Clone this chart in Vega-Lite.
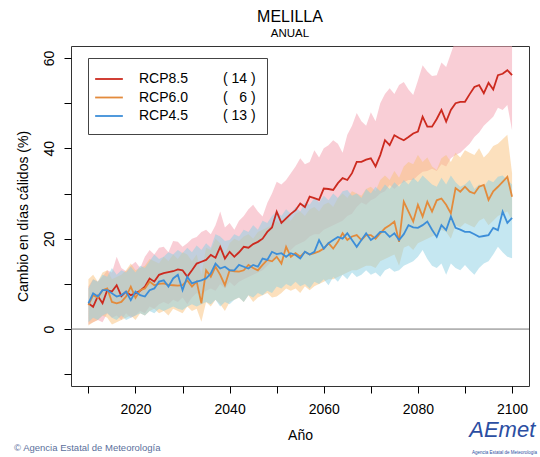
{
  "$schema": "https://vega.github.io/schema/vega-lite/v6.json",
  "width": 458,
  "height": 340,
  "autosize": "none",
  "padding": {"left": 71, "top": 46, "right": 11, "bottom": 71},
  "background": "#ffffff",
  "config": {
    "font": "Liberation Sans",
    "view": {"stroke": "#333333", "strokeWidth": 1},
    "axis": {
      "domain": false, "grid": false, "tickColor": "#000000", "tickSize": 7, "tickWidth": 1,
      "labelFontSize": 14, "labelColor": "#000000", "labelFont": "Liberation Sans",
      "titleFontSize": 14, "titleFontWeight": "normal", "titleColor": "#000000", "titleFont": "Liberation Sans",
      "labelFlush": false, "labelOverlap": false
    }
  },
  "title": {
    "text": "MELILLA", "subtitle": "ANUAL", "fontSize": 16, "fontWeight": "normal", "color": "#000000",
    "subtitleFontSize": 11.5, "subtitleColor": "#000000", "subtitleFont": "Liberation Sans", "font": "Liberation Sans",
    "anchor": "middle", "frame": "group", "offset": 7, "dx": -10, "subtitlePadding": 3
  },
  "data": {"values": [
    {"year":2010,"r":5.7,"rl":1.0,"ru":9.5,"o":5.3,"ol":0.8,"ou":11.0,"b":5.7,"bl":1.5,"bu":9.0},
    {"year":2011,"r":4.9,"rl":1.5,"ru":11.0,"o":7.5,"ol":1.5,"ou":12.0,"b":7.9,"bl":2.5,"bu":11.0},
    {"year":2012,"r":7.3,"rl":2.0,"ru":10.5,"o":6.9,"ol":2.0,"ou":10.5,"b":7.2,"bl":2.0,"bu":10.5},
    {"year":2013,"r":5.7,"rl":1.5,"ru":11.6,"o":8.6,"ol":3.0,"ou":12.5,"b":8.6,"bl":3.0,"bu":12.0},
    {"year":2014,"r":8.6,"rl":3.5,"ru":13.0,"o":9.0,"ol":2.5,"ou":13.0,"b":8.6,"bl":3.5,"bu":11.6},
    {"year":2015,"r":8.3,"rl":2.5,"ru":12.5,"o":6.0,"ol":1.0,"ou":11.0,"b":7.9,"bl":2.5,"bu":13.5},
    {"year":2016,"r":9.7,"rl":3.0,"ru":16.0,"o":5.7,"ol":1.5,"ou":11.5,"b":7.2,"bl":2.0,"bu":12.0},
    {"year":2017,"r":7.3,"rl":2.0,"ru":13.5,"o":6.0,"ol":2.0,"ou":12.0,"b":7.5,"bl":3.0,"bu":13.0},
    {"year":2018,"r":8.3,"rl":3.5,"ru":12.8,"o":7.2,"ol":2.5,"ou":13.0,"b":8.3,"bl":2.0,"bu":12.5},
    {"year":2019,"r":7.5,"rl":2.5,"ru":14.0,"o":9.4,"ol":3.0,"ou":14.5,"b":6.4,"bl":2.5,"bu":13.8},
    {"year":2020,"r":7.9,"rl":3.0,"ru":14.9,"o":6.9,"ol":2.0,"ou":13.0,"b":8.3,"bl":3.0,"bu":12.5},
    {"year":2021,"r":8.5,"rl":4.0,"ru":13.5,"o":8.6,"ol":3.5,"ou":13.5,"b":7.5,"bl":3.5,"bu":14.0},
    {"year":2022,"r":9.4,"rl":3.5,"ru":16.0,"o":9.0,"ol":3.0,"ou":14.0,"b":7.2,"bl":3.0,"bu":13.5},
    {"year":2023,"r":11.2,"rl":5.0,"ru":17.5,"o":10.5,"ol":4.0,"ou":15.5,"b":8.6,"bl":4.0,"bu":15.0},
    {"year":2024,"r":10.5,"rl":4.5,"ru":16.5,"o":9.7,"ol":4.5,"ou":15.0,"b":9.0,"bl":3.5,"bu":16.5},
    {"year":2025,"r":12.0,"rl":5.5,"ru":18.0,"o":10.0,"ol":3.5,"ou":14.5,"b":10.5,"bl":4.5,"bu":15.5},
    {"year":2026,"r":12.4,"rl":6.0,"ru":18.2,"o":10.1,"ol":4.0,"ou":16.0,"b":10.8,"bl":4.0,"bu":16.0},
    {"year":2027,"r":12.6,"rl":5.5,"ru":17.0,"o":9.8,"ol":3.0,"ou":15.0,"b":9.4,"bl":4.5,"bu":17.0},
    {"year":2028,"r":12.8,"rl":6.5,"ru":19.5,"o":9.7,"ol":4.5,"ou":16.5,"b":11.2,"bl":5.0,"bu":16.5},
    {"year":2029,"r":13.2,"rl":6.0,"ru":19.3,"o":9.6,"ol":4.0,"ou":15.5,"b":12.0,"bl":4.5,"bu":17.5},
    {"year":2030,"r":13.0,"rl":7.0,"ru":18.2,"o":9.7,"ol":3.5,"ou":17.0,"b":8.6,"bl":4.2,"bu":16.8},
    {"year":2031,"r":11.6,"rl":5.5,"ru":19.0,"o":10.8,"ol":5.0,"ou":16.5,"b":11.6,"bl":5.0,"bu":18.0},
    {"year":2032,"r":13.0,"rl":7.0,"ru":20.0,"o":9.4,"ol":4.0,"ou":15.0,"b":10.1,"bl":5.5,"bu":17.0},
    {"year":2033,"r":14.5,"rl":8.0,"ru":20.4,"o":10.5,"ol":4.5,"ou":16.5,"b":10.5,"bl":5.0,"bu":18.5},
    {"year":2034,"r":14.9,"rl":7.5,"ru":21.5,"o":5.7,"ol":1.6,"ou":12.0,"b":10.8,"bl":5.5,"bu":17.5},
    {"year":2035,"r":15.3,"rl":8.5,"ru":22.0,"o":13.0,"ol":6.0,"ou":18.0,"b":11.2,"bl":6.0,"bu":19.0},
    {"year":2036,"r":16.4,"rl":9.0,"ru":21.0,"o":11.6,"ol":5.0,"ou":17.5,"b":12.3,"bl":5.5,"bu":18.0},
    {"year":2037,"r":15.8,"rl":8.5,"ru":23.0,"o":13.8,"ol":6.5,"ou":20.0,"b":14.5,"bl":6.5,"bu":21.0},
    {"year":2038,"r":18.2,"rl":10.0,"ru":26.0,"o":12.0,"ol":5.5,"ou":19.0,"b":13.4,"bl":5.0,"bu":20.5},
    {"year":2039,"r":15.6,"rl":9.0,"ru":22.5,"o":9.7,"ol":4.0,"ou":16.5,"b":13.8,"bl":6.0,"bu":19.5},
    {"year":2040,"r":17.1,"rl":10.5,"ru":23.5,"o":13.0,"ol":6.0,"ou":19.0,"b":13.0,"bl":5.5,"bu":19.7},
    {"year":2041,"r":16.0,"rl":9.5,"ru":22.0,"o":12.8,"ol":6.5,"ou":20.0,"b":13.0,"bl":6.5,"bu":21.0},
    {"year":2042,"r":17.0,"rl":10.5,"ru":24.0,"o":12.7,"ol":7.0,"ou":19.5,"b":14.2,"bl":7.0,"bu":20.5},
    {"year":2043,"r":18.2,"rl":11.0,"ru":25.0,"o":13.0,"ol":6.0,"ou":20.5,"b":13.8,"bl":6.0,"bu":22.0},
    {"year":2044,"r":18.0,"rl":11.5,"ru":26.5,"o":14.2,"ol":7.5,"ou":21.0,"b":13.4,"bl":7.5,"bu":21.5},
    {"year":2045,"r":18.8,"rl":12.0,"ru":27.5,"o":13.5,"ol":6.0,"ou":20.0,"b":14.2,"bl":7.0,"bu":23.0},
    {"year":2046,"r":19.3,"rl":12.5,"ru":26.0,"o":13.0,"ol":7.0,"ou":21.5,"b":13.8,"bl":8.0,"bu":22.0},
    {"year":2047,"r":20.0,"rl":13.0,"ru":24.9,"o":14.2,"ol":7.5,"ou":22.0,"b":15.6,"bl":7.5,"bu":24.0},
    {"year":2048,"r":21.5,"rl":14.0,"ru":27.9,"o":15.3,"ol":8.0,"ou":22.5,"b":15.3,"bl":8.5,"bu":23.5},
    {"year":2049,"r":22.5,"rl":15.0,"ru":30.0,"o":15.0,"ol":7.0,"ou":23.0,"b":17.1,"bl":8.0,"bu":25.0},
    {"year":2050,"r":26.0,"rl":16.0,"ru":32.6,"o":16.0,"ol":7.2,"ou":24.0,"b":16.6,"bl":9.4,"bu":26.0},
    {"year":2051,"r":23.5,"rl":16.5,"ru":32.0,"o":14.5,"ol":8.0,"ou":23.0,"b":16.8,"bl":9.0,"bu":25.0},
    {"year":2052,"r":24.5,"rl":17.0,"ru":33.0,"o":18.2,"ol":9.0,"ou":25.0,"b":16.0,"bl":10.0,"bu":26.5},
    {"year":2053,"r":25.5,"rl":17.5,"ru":34.5,"o":16.0,"ol":8.5,"ou":24.0,"b":16.8,"bl":9.5,"bu":25.5},
    {"year":2054,"r":26.3,"rl":18.5,"ru":36.0,"o":16.8,"ol":9.0,"ou":25.5,"b":16.4,"bl":10.5,"bu":27.0},
    {"year":2055,"r":27.8,"rl":19.0,"ru":37.8,"o":16.0,"ol":8.0,"ou":26.0,"b":15.6,"bl":9.5,"bu":26.0},
    {"year":2056,"r":27.0,"rl":19.5,"ru":36.5,"o":17.1,"ol":9.5,"ou":25.0,"b":17.1,"bl":10.0,"bu":28.0},
    {"year":2057,"r":29.3,"rl":20.5,"ru":37.0,"o":16.5,"ol":8.6,"ou":26.5,"b":16.5,"bl":9.0,"bu":27.5},
    {"year":2058,"r":29.0,"rl":21.0,"ru":39.6,"o":16.8,"ol":9.5,"ou":27.0,"b":17.1,"bl":10.5,"bu":29.0},
    {"year":2059,"r":28.6,"rl":21.0,"ru":38.0,"o":17.2,"ol":10.0,"ou":26.0,"b":19.7,"bl":10.0,"bu":28.0},
    {"year":2060,"r":31.1,"rl":22.0,"ru":40.0,"o":17.8,"ol":10.5,"ou":27.5,"b":17.8,"bl":11.0,"bu":29.5},
    {"year":2061,"r":31.0,"rl":22.5,"ru":40.7,"o":19.0,"ol":11.0,"ou":28.0,"b":19.0,"bl":9.7,"bu":28.5},
    {"year":2062,"r":30.8,"rl":23.0,"ru":41.8,"o":17.8,"ol":11.0,"ou":27.0,"b":19.7,"bl":11.5,"bu":30.0},
    {"year":2063,"r":32.3,"rl":23.5,"ru":41.0,"o":19.3,"ol":11.5,"ou":29.0,"b":20.4,"bl":10.5,"bu":29.0},
    {"year":2064,"r":33.4,"rl":24.0,"ru":39.0,"o":21.2,"ol":12.0,"ou":30.0,"b":20.0,"bl":12.0,"bu":30.5},
    {"year":2065,"r":33.0,"rl":25.0,"ru":43.0,"o":19.7,"ol":12.5,"ou":29.0,"b":21.2,"bl":11.0,"bu":30.8},
    {"year":2066,"r":34.5,"rl":25.5,"ru":45.0,"o":20.5,"ol":13.0,"ou":30.5,"b":19.7,"bl":12.5,"bu":29.5},
    {"year":2067,"r":37.0,"rl":27.0,"ru":47.8,"o":20.8,"ol":13.0,"ou":30.0,"b":18.2,"bl":11.5,"bu":30.0},
    {"year":2068,"r":37.0,"rl":28.0,"ru":46.0,"o":19.7,"ol":13.5,"ou":29.5,"b":19.7,"bl":12.0,"bu":29.0},
    {"year":2069,"r":37.5,"rl":27.5,"ru":45.0,"o":20.8,"ol":14.0,"ou":31.0,"b":21.2,"bl":13.0,"bu":31.0},
    {"year":2070,"r":37.8,"rl":28.5,"ru":48.0,"o":20.8,"ol":14.0,"ou":31.5,"b":19.7,"bl":12.0,"bu":30.0},
    {"year":2071,"r":36.0,"rl":29.0,"ru":46.0,"o":20.0,"ol":13.5,"ou":30.5,"b":20.4,"bl":12.5,"bu":31.5},
    {"year":2072,"r":38.5,"rl":30.0,"ru":50.0,"o":21.2,"ol":15.0,"ou":33.0,"b":21.5,"bl":11.6,"bu":30.5},
    {"year":2073,"r":41.8,"rl":30.5,"ru":52.0,"o":22.3,"ol":15.5,"ou":34.0,"b":21.5,"bl":13.0,"bu":32.0},
    {"year":2074,"r":40.7,"rl":31.9,"ru":53.3,"o":23.0,"ol":16.0,"ou":33.0,"b":20.4,"bl":13.5,"bu":31.0},
    {"year":2075,"r":42.9,"rl":31.0,"ru":52.0,"o":23.8,"ol":16.5,"ou":35.0,"b":21.2,"bl":12.7,"bu":32.5},
    {"year":2076,"r":42.3,"rl":32.0,"ru":54.0,"o":19.3,"ol":14.0,"ou":33.5,"b":19.7,"bl":13.0,"bu":31.5},
    {"year":2077,"r":41.8,"rl":32.5,"ru":54.7,"o":28.2,"ol":18.0,"ou":36.0,"b":21.0,"bl":14.0,"bu":33.0},
    {"year":2078,"r":42.5,"rl":33.0,"ru":53.0,"o":26.0,"ol":18.5,"ou":37.0,"b":23.0,"bl":14.5,"bu":32.0},
    {"year":2079,"r":43.3,"rl":33.0,"ru":51.8,"o":23.8,"ol":17.5,"ou":36.5,"b":22.5,"bl":15.0,"bu":33.5},
    {"year":2080,"r":43.7,"rl":34.0,"ru":55.0,"o":27.5,"ol":19.0,"ou":38.5,"b":22.4,"bl":16.0,"bu":32.5},
    {"year":2081,"r":47.0,"rl":34.8,"ru":58.4,"o":24.9,"ol":19.5,"ou":37.0,"b":23.0,"bl":17.5,"bu":34.0},
    {"year":2082,"r":44.8,"rl":35.0,"ru":57.0,"o":28.2,"ol":20.0,"ou":38.0,"b":23.8,"bl":15.5,"bu":33.0},
    {"year":2083,"r":44.8,"rl":35.5,"ru":56.0,"o":26.0,"ol":20.5,"ou":36.0,"b":22.0,"bl":14.0,"bu":32.0},
    {"year":2084,"r":46.5,"rl":35.0,"ru":56.2,"o":28.5,"ol":21.0,"ou":35.2,"b":20.4,"bl":13.5,"bu":31.5},
    {"year":2085,"r":48.5,"rl":36.5,"ru":59.0,"o":28.9,"ol":22.0,"ou":37.8,"b":23.0,"bl":14.5,"bu":33.5},
    {"year":2086,"r":45.9,"rl":36.0,"ru":58.0,"o":27.5,"ol":21.5,"ou":38.5,"b":21.9,"bl":12.0,"bu":32.0},
    {"year":2087,"r":48.5,"rl":37.8,"ru":61.0,"o":25.6,"ol":20.0,"ou":37.0,"b":24.9,"bl":14.5,"bu":34.0},
    {"year":2088,"r":50.0,"rl":38.5,"ru":64.0,"o":31.2,"ol":23.0,"ou":39.0,"b":22.4,"bl":13.5,"bu":32.5},
    {"year":2089,"r":50.3,"rl":39.0,"ru":66.0,"o":30.4,"ol":22.5,"ou":38.0,"b":22.0,"bl":13.0,"bu":31.5},
    {"year":2090,"r":50.3,"rl":40.0,"ru":65.0,"o":31.5,"ol":23.5,"ou":39.6,"b":21.5,"bl":14.2,"bu":32.0},
    {"year":2091,"r":52.0,"rl":41.0,"ru":67.0,"o":30.4,"ol":23.0,"ou":39.0,"b":21.5,"bl":13.0,"bu":33.0},
    {"year":2092,"r":53.6,"rl":42.5,"ru":68.0,"o":30.0,"ol":22.5,"ou":38.5,"b":21.0,"bl":12.0,"bu":31.0},
    {"year":2093,"r":54.0,"rl":43.5,"ru":68.0,"o":31.5,"ol":24.0,"ou":40.0,"b":20.4,"bl":13.5,"bu":32.0},
    {"year":2094,"r":52.2,"rl":45.0,"ru":69.0,"o":31.9,"ol":24.5,"ou":38.0,"b":20.6,"bl":14.5,"bu":31.5},
    {"year":2095,"r":54.5,"rl":46.0,"ru":70.0,"o":28.6,"ol":23.0,"ou":39.0,"b":20.8,"bl":15.0,"bu":33.0},
    {"year":2096,"r":53.0,"rl":47.0,"ru":70.0,"o":30.5,"ol":24.0,"ou":40.5,"b":22.4,"bl":16.5,"bu":32.5},
    {"year":2097,"r":56.2,"rl":49.0,"ru":71.0,"o":31.5,"ol":25.0,"ou":41.0,"b":21.9,"bl":18.2,"bu":33.7},
    {"year":2098,"r":56.5,"rl":48.5,"ru":72.0,"o":32.6,"ol":25.5,"ou":42.0,"b":26.0,"bl":17.0,"bu":34.0},
    {"year":2099,"r":57.3,"rl":49.6,"ru":72.0,"o":33.7,"ol":26.0,"ou":43.0,"b":23.5,"bl":16.0,"bu":33.0},
    {"year":2100,"r":56.2,"rl":44.0,"ru":72.0,"o":29.3,"ol":24.0,"ou":34.5,"b":24.6,"bl":15.7,"bu":32.0}
  ]},
  "layer": [
    {
      "mark": {"type": "area", "clip": true, "fill": "#f4a6b4", "opacity": 0.55},
      "encoding": {
        "x": {"field": "year", "type": "quantitative",
          "scale": {"domain": [2006.3, 2103.6], "nice": false, "zero": false},
          "axis": {"values": [2010,2015,2020,2025,2030,2035,2040,2045,2050,2055,2060,2065,2070,2075,2080,2085,2090,2095,2100],
            "labelExpr": "datum.value % 20 === 0 ? datum.label : ''", "format": "d", "title": "Año",
            "labelPadding": 9, "titlePadding": 12}},
        "y": {"field": "ru", "type": "quantitative",
          "scale": {"domain": [-12.6, 62.65], "nice": false, "zero": false},
          "axis": {"values": [-10,-5,0,5,10,15,20,25,30,35,40,45,50,55,60],
            "labelExpr": "datum.value % 20 === 0 ? datum.label : ''",
            "labelAngle": -90, "labelAlign": "center", "labelBaseline": "bottom", "labelPadding": 8,
            "title": "Cambio en días cálidos (%)", "titlePadding": 12}},
        "y2": {"field": "rl"}
      }
    },
    {
      "mark": {"type": "area", "clip": true, "fill": "#f9c27c", "opacity": 0.5},
      "encoding": {
        "x": {"field": "year", "type": "quantitative"},
        "y": {"field": "ou", "type": "quantitative"},
        "y2": {"field": "ol"}
      }
    },
    {
      "mark": {"type": "area", "clip": true, "fill": "#8ccfe4", "opacity": 0.5},
      "encoding": {
        "x": {"field": "year", "type": "quantitative"},
        "y": {"field": "bu", "type": "quantitative"},
        "y2": {"field": "bl"}
      }
    },
    {
      "data": {"values": [{"zero": 0}]},
      "mark": {"type": "rule", "color": "#777777", "strokeWidth": 1},
      "encoding": {"y": {"field": "zero", "type": "quantitative"}}
    },
    {
      "mark": {"type": "line", "clip": true, "strokeWidth": 1.8},
      "encoding": {
        "x": {"field": "year", "type": "quantitative"},
        "y": {"field": "r", "type": "quantitative"},
        "color": {"datum": "RCP8.5", "type": "nominal",
          "scale": {"domain": ["RCP8.5", "RCP6.0", "RCP4.5"], "range": ["#cc2a1f", "#e38b3c", "#3d8ed8"]},
          "legend": {"orient": "none", "legendX": 17, "legendY": 12, "title": null,
            "symbolType": "M-1.6,0H1.6", "symbolSize": 300, "symbolStrokeWidth": 1.8,
            "labelFontSize": 14, "labelFont": "Liberation Sans", "labelColor": "#000000",
            "labelOffset": 20, "padding": 11, "rowPadding": 1.5, "labelLimit": 400,
            "strokeColor": "#444444", "fillColor": "#ffffff",
            "labelExpr": "datum.label == 'RCP8.5' ? 'RCP8.5\u00a0\u00a0\u00a0\u00a0\u00a0\u00a0\u00a0\u00a0\u00a0(\u00a014\u00a0)' : datum.label == 'RCP6.0' ? 'RCP6.0\u00a0\u00a0\u00a0\u00a0\u00a0\u00a0\u00a0\u00a0\u00a0(\u00a0\u00a0\u00a06\u00a0)' : 'RCP4.5\u00a0\u00a0\u00a0\u00a0\u00a0\u00a0\u00a0\u00a0\u00a0(\u00a013\u00a0)'"}}
      }
    },
    {
      "mark": {"type": "line", "clip": true, "strokeWidth": 1.8},
      "encoding": {
        "x": {"field": "year", "type": "quantitative"},
        "y": {"field": "o", "type": "quantitative"},
        "color": {"datum": "RCP6.0", "type": "nominal"}
      }
    },
    {
      "mark": {"type": "line", "clip": true, "strokeWidth": 1.8},
      "encoding": {
        "x": {"field": "year", "type": "quantitative"},
        "y": {"field": "b", "type": "quantitative"},
        "color": {"datum": "RCP4.5", "type": "nominal"}
      }
    },
    {
      "data": {"values": [
        {"tx": 1994.2, "ty": -26.3, "label": "© Agencia Estatal de Meteorología"}
      ]},
      "mark": {"type": "text", "align": "left", "baseline": "middle", "fontSize": 9.5, "color": "#5b6f9c", "font": "Liberation Sans"},
      "encoding": {
        "x": {"field": "tx", "type": "quantitative"},
        "y": {"field": "ty", "type": "quantitative"},
        "text": {"field": "label"}
      }
    },
    {
      "data": {"values": [
        {"tx": 2090.9, "ty": -22.4, "label": "AEmet"}
      ]},
      "mark": {"type": "text", "align": "left", "baseline": "middle", "fontSize": 22, "fontStyle": "italic", "color": "#2b4ea2", "font": "Liberation Sans"},
      "encoding": {
        "x": {"field": "tx", "type": "quantitative"},
        "y": {"field": "ty", "type": "quantitative"},
        "text": {"field": "label"}
      }
    },
    {
      "data": {"values": [
        {"tx": 2105.3, "ty": -27.4, "label": "Agencia Estatal de Meteorología"}
      ]},
      "mark": {"type": "text", "align": "right", "baseline": "middle", "fontSize": 4.5, "color": "#2b4ea2", "font": "Liberation Sans"},
      "encoding": {
        "x": {"field": "tx", "type": "quantitative"},
        "y": {"field": "ty", "type": "quantitative"},
        "text": {"field": "label"}
      }
    }
  ]
}
